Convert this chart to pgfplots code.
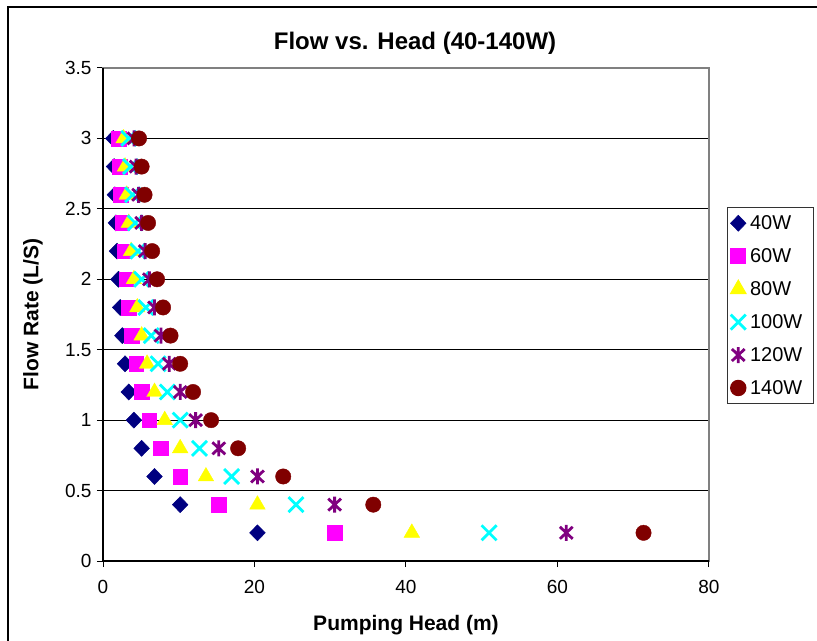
\documentclass[border=0pt]{standalone}
\usepackage{fontspec}
\setmainfont{Liberation Sans}
\usepackage{pgfplots}
\pgfplotsset{compat=1.18}

\definecolor{c40}{RGB}{0,0,128}
\definecolor{c60}{RGB}{255,0,255}
\definecolor{c80}{RGB}{255,255,0}
\definecolor{c100}{RGB}{0,255,255}
\definecolor{c120}{RGB}{128,0,128}
\definecolor{c140}{RGB}{128,0,0}
\definecolor{framegray}{RGB}{128,128,128}

% Excel-style star: an x with a vertical stroke through it
\pgfdeclareplotmark{xstar}{%
  \pgfpathmoveto{\pgfqpoint{0pt}{\pgfplotmarksize}}%
  \pgfpathlineto{\pgfqpoint{0pt}{-\pgfplotmarksize}}%
  \pgfpathmoveto{\pgfqpoint{-.8\pgfplotmarksize}{.75\pgfplotmarksize}}%
  \pgfpathlineto{\pgfqpoint{.8\pgfplotmarksize}{-.75\pgfplotmarksize}}%
  \pgfpathmoveto{\pgfqpoint{-.8\pgfplotmarksize}{-.75\pgfplotmarksize}}%
  \pgfpathlineto{\pgfqpoint{.8\pgfplotmarksize}{.75\pgfplotmarksize}}%
  \pgfusepathqstroke}

% head (m) vs flow (L/s), one column per lamp wattage
\pgfplotstableread{
q h40 h60 h80 h100 h120 h140
0.2 20.39 30.58 40.77 50.97 61.16 71.36
0.4 10.19 15.29 20.39 25.48 30.58 35.68
0.6 6.80 10.19 13.59 16.99 20.39 23.79
0.8 5.10 7.65 10.19 12.74 15.29 17.84
1.0 4.08 6.12 8.15 10.19 12.23 14.27
1.2 3.40 5.10 6.80 8.49 10.19 11.89
1.4 2.91 4.37 5.82 7.28 8.74 10.19
1.6 2.55 3.82 5.10 6.37 7.65 8.92
1.8 2.27 3.40 4.53 5.66 6.80 7.93
2.0 2.04 3.06 4.08 5.10 6.12 7.14
2.2 1.85 2.78 3.71 4.63 5.56 6.49
2.4 1.70 2.55 3.40 4.25 5.10 5.95
2.6 1.57 2.35 3.14 3.92 4.70 5.49
2.8 1.46 2.18 2.91 3.64 4.37 5.10
3.0 1.36 2.04 2.72 3.40 4.08 4.76
}\flowdata

\begin{document}
\begin{tikzpicture}
\useasboundingbox (0,0) rectangle (817bp,641bp);
\draw[black, line width=1.5bp] (8bp,-5bp) -- (8bp,634bp) -- (830bp,634bp);
\begin{axis}[
    at={(103bp,80bp)}, anchor=south west,
    scale only axis,
    width=606bp, height=493bp,
    xmin=0, xmax=80, ymin=0, ymax=3.5,
    xtick={0,20,40,60,80},
    ytick={0,0.5,...,3.5},
    yticklabels={0,0.5,1,1.5,2,2.5,3,3.5},
    xtick pos=bottom, ytick pos=left,
    tick align=outside,
    major tick length=6bp,
    tick style={black, line width=1bp},
    ymajorgrids,
    grid style={black, line width=1bp},
    axis line style={framegray, line width=1.5bp},
    /pgf/number format/assume math mode=true,
    ticklabel style={font=\fontsize{19bp}{22bp}\selectfont},
    xticklabel style={yshift=-10bp},
    yticklabel style={xshift=-2bp},
    title={Flow vs. Head (40-140W)},
    title style={font=\bfseries\fontsize{24bp}{28bp}\selectfont,
        at={(axis description cs:0.5149,1.0385)}, anchor=center},
    xlabel={Pumping Head (m)},
    xlabel style={font=\bfseries\fontsize{21bp}{25bp}\selectfont,
        at={(axis description cs:0.5,-0.1298)}, anchor=center},
    ylabel={Flow Rate (L/S)},
    ylabel style={font=\bfseries\fontsize{21bp}{25bp}\selectfont,
        at={(axis description cs:-0.1155,0.5)}, anchor=center},
    legend style={
        at={(axis description cs:1.0297,0.718)}, anchor=north west,
        draw=black!80, line width=1bp,
        font=\fontsize{20bp}{24bp}\selectfont,
        row sep=13.5bp, inner xsep=3bp, inner ysep=6bp,
        cells={anchor=west},
        nodes={inner xsep=4bp},
        text width=56bp,
    },
    legend image code/.code={\draw[#1] plot coordinates {(5bp,0bp)};},
    clip=false,
]
\addplot[only marks, mark=diamond*, mark size=8bp, color=c40,
    mark options={xscale=1.3, line width=0.5bp}] table[x=h40, y=q] {\flowdata};
\addlegendentry{40W}
\addplot[only marks, mark=square*, mark size=7.3bp, color=c60] table[x=h60, y=q] {\flowdata};
\addlegendentry{60W}
\addplot[only marks, mark=triangle*, mark size=9bp, color=c80] table[x=h80, y=q] {\flowdata};
\addlegendentry{80W}
\addplot[only marks, mark=x, mark size=10.6bp, color=c100,
    mark options={line width=2.8bp}] table[x=h100, y=q] {\flowdata};
\addlegendentry{100W}
\addplot[only marks, mark=xstar, mark size=8bp, color=c120,
    mark options={line width=2.8bp}] table[x=h120, y=q] {\flowdata};
\addlegendentry{120W}
\addplot[only marks, mark=*, mark size=7.7bp, color=c140] table[x=h140, y=q] {\flowdata};
\addlegendentry{140W}
\draw[black, line width=1.5bp] (rel axis cs:0,1) -- (rel axis cs:0,0) -- (rel axis cs:1,0);
\end{axis}
\end{tikzpicture}
\end{document}
